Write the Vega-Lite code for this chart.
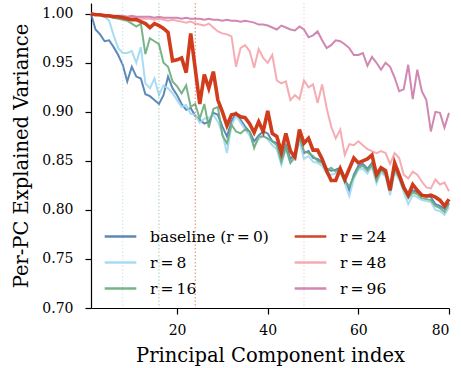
{
  "$schema": "https://vega.github.io/schema/vega-lite/v6.json",
  "width": 358,
  "height": 305,
  "autosize": {"type": "none"},
  "padding": {"left": 91, "top": 3, "right": 12, "bottom": 60},
  "background": "white",
  "config": {
    "view": {"stroke": null},
    "font": "DejaVu Serif",
    "axis": {
      "grid": false,
      "domainColor": "black",
      "domainWidth": 1.2,
      "tickColor": "black",
      "tickWidth": 1.2,
      "tickSize": 6,
      "labelColor": "black",
      "titleColor": "black",
      "labelFont": "DejaVu Serif",
      "titleFont": "DejaVu Serif",
      "labelFontSize": 14,
      "titleFontSize": 19.5,
      "titleFontWeight": "normal"
    }
  },
  "datasets": {
    "pcs": [
      {"i":1,"b":1.000,"r8":1.000,"r16":1.000,"r24":1.000,"r48":1.000,"r96":1.000},
      {"i":2,"b":0.984,"r8":0.999,"r16":0.999,"r24":0.999,"r48":0.999,"r96":0.999},
      {"i":3,"b":0.979,"r8":0.998,"r16":0.999,"r24":0.999,"r48":0.999,"r96":0.999},
      {"i":4,"b":0.972,"r8":0.997,"r16":0.998,"r24":0.998,"r48":0.998,"r96":0.999},
      {"i":5,"b":0.973,"r8":0.993,"r16":0.997,"r24":0.998,"r48":0.998,"r96":0.998},
      {"i":6,"b":0.966,"r8":0.978,"r16":0.996,"r24":0.997,"r48":0.998,"r96":0.998},
      {"i":7,"b":0.958,"r8":0.965,"r16":0.995,"r24":0.997,"r48":0.997,"r96":0.998},
      {"i":8,"b":0.948,"r8":0.960,"r16":0.994,"r24":0.996,"r48":0.997,"r96":0.998},
      {"i":9,"b":0.931,"r8":0.960,"r16":0.993,"r24":0.995,"r48":0.996,"r96":0.997},
      {"i":10,"b":0.946,"r8":0.962,"r16":0.990,"r24":0.994,"r48":0.996,"r96":0.998},
      {"i":11,"b":0.936,"r8":0.950,"r16":0.987,"r24":0.994,"r48":0.996,"r96":0.997},
      {"i":12,"b":0.934,"r8":0.966,"r16":0.990,"r24":0.992,"r48":0.995,"r96":0.997},
      {"i":13,"b":0.918,"r8":0.929,"r16":0.959,"r24":0.990,"r48":0.995,"r96":0.997},
      {"i":14,"b":0.916,"r8":0.924,"r16":0.975,"r24":0.986,"r48":0.995,"r96":0.997},
      {"i":15,"b":0.912,"r8":0.934,"r16":0.972,"r24":0.990,"r48":0.994,"r96":0.996},
      {"i":16,"b":0.908,"r8":0.917,"r16":0.969,"r24":0.988,"r48":0.995,"r96":0.997},
      {"i":17,"b":0.917,"r8":0.927,"r16":0.950,"r24":0.985,"r48":0.994,"r96":0.996},
      {"i":18,"b":0.936,"r8":0.924,"r16":0.946,"r24":0.981,"r48":0.993,"r96":0.996},
      {"i":19,"b":0.924,"r8":0.919,"r16":0.931,"r24":0.952,"r48":0.994,"r96":0.996},
      {"i":20,"b":0.917,"r8":0.912,"r16":0.926,"r24":0.953,"r48":0.993,"r96":0.996},
      {"i":21,"b":0.908,"r8":0.905,"r16":0.919,"r24":0.955,"r48":0.992,"r96":0.995},
      {"i":22,"b":0.902,"r8":0.907,"r16":0.927,"r24":0.940,"r48":0.991,"r96":0.996},
      {"i":23,"b":0.904,"r8":0.898,"r16":0.905,"r24":0.980,"r48":0.992,"r96":0.995},
      {"i":24,"b":0.896,"r8":0.897,"r16":0.908,"r24":0.944,"r48":0.990,"r96":0.995},
      {"i":25,"b":0.892,"r8":0.889,"r16":0.893,"r24":0.908,"r48":0.989,"r96":0.995},
      {"i":26,"b":0.888,"r8":0.893,"r16":0.908,"r24":0.938,"r48":0.988,"r96":0.994},
      {"i":27,"b":0.890,"r8":0.894,"r16":0.884,"r24":0.924,"r48":0.990,"r96":0.995},
      {"i":28,"b":0.899,"r8":0.897,"r16":0.903,"r24":0.941,"r48":0.986,"r96":0.994},
      {"i":29,"b":0.897,"r8":0.890,"r16":0.905,"r24":0.912,"r48":0.982,"r96":0.994},
      {"i":30,"b":0.885,"r8":0.878,"r16":0.876,"r24":0.900,"r48":0.980,"r96":0.993},
      {"i":31,"b":0.875,"r8":0.858,"r16":0.868,"r24":0.886,"r48":0.979,"r96":0.994},
      {"i":32,"b":0.890,"r8":0.886,"r16":0.887,"r24":0.897,"r48":0.977,"r96":0.993},
      {"i":33,"b":0.899,"r8":0.896,"r16":0.880,"r24":0.898,"r48":0.946,"r96":0.993},
      {"i":34,"b":0.892,"r8":0.889,"r16":0.878,"r24":0.895,"r48":0.965,"r96":0.992},
      {"i":35,"b":0.885,"r8":0.882,"r16":0.882,"r24":0.894,"r48":0.968,"r96":0.993},
      {"i":36,"b":0.880,"r8":0.876,"r16":0.880,"r24":0.888,"r48":0.962,"r96":0.992},
      {"i":37,"b":0.870,"r8":0.865,"r16":0.863,"r24":0.879,"r48":0.945,"r96":0.991},
      {"i":38,"b":0.876,"r8":0.872,"r16":0.875,"r24":0.890,"r48":0.964,"r96":0.989},
      {"i":39,"b":0.880,"r8":0.876,"r16":0.875,"r24":0.880,"r48":0.955,"r96":0.989},
      {"i":40,"b":0.878,"r8":0.872,"r16":0.873,"r24":0.901,"r48":0.950,"r96":0.988},
      {"i":41,"b":0.870,"r8":0.866,"r16":0.870,"r24":0.878,"r48":0.958,"r96":0.986},
      {"i":42,"b":0.868,"r8":0.862,"r16":0.866,"r24":0.875,"r48":0.932,"r96":0.984},
      {"i":43,"b":0.852,"r8":0.846,"r16":0.849,"r24":0.859,"r48":0.929,"r96":0.988},
      {"i":44,"b":0.866,"r8":0.862,"r16":0.864,"r24":0.878,"r48":0.931,"r96":0.986},
      {"i":45,"b":0.852,"r8":0.848,"r16":0.848,"r24":0.860,"r48":0.912,"r96":0.984},
      {"i":46,"b":0.857,"r8":0.852,"r16":0.855,"r24":0.854,"r48":0.917,"r96":0.983},
      {"i":47,"b":0.877,"r8":0.870,"r16":0.874,"r24":0.882,"r48":0.913,"r96":0.987},
      {"i":48,"b":0.858,"r8":0.852,"r16":0.860,"r24":0.868,"r48":0.932,"r96":0.984},
      {"i":49,"b":0.860,"r8":0.855,"r16":0.858,"r24":0.873,"r48":0.925,"r96":0.976},
      {"i":50,"b":0.853,"r8":0.849,"r16":0.855,"r24":0.861,"r48":0.928,"r96":0.978},
      {"i":51,"b":0.852,"r8":0.848,"r16":0.850,"r24":0.861,"r48":0.909,"r96":0.982},
      {"i":52,"b":0.849,"r8":0.845,"r16":0.848,"r24":0.852,"r48":0.928,"r96":0.973},
      {"i":53,"b":0.842,"r8":0.837,"r16":0.840,"r24":0.840,"r48":0.904,"r96":0.965},
      {"i":54,"b":0.840,"r8":0.836,"r16":0.843,"r24":0.830,"r48":0.885,"r96":0.968},
      {"i":55,"b":0.841,"r8":0.837,"r16":0.839,"r24":0.830,"r48":0.873,"r96":0.973},
      {"i":56,"b":0.843,"r8":0.838,"r16":0.841,"r24":0.842,"r48":0.882,"r96":0.972},
      {"i":57,"b":0.832,"r8":0.827,"r16":0.830,"r24":0.831,"r48":0.856,"r96":0.969},
      {"i":58,"b":0.820,"r8":0.814,"r16":0.824,"r24":0.842,"r48":0.867,"r96":0.965},
      {"i":59,"b":0.836,"r8":0.832,"r16":0.834,"r24":0.853,"r48":0.866,"r96":0.958},
      {"i":60,"b":0.845,"r8":0.841,"r16":0.843,"r24":0.848,"r48":0.870,"r96":0.958},
      {"i":61,"b":0.847,"r8":0.842,"r16":0.845,"r24":0.850,"r48":0.866,"r96":0.960},
      {"i":62,"b":0.842,"r8":0.837,"r16":0.840,"r24":0.852,"r48":0.862,"r96":0.947},
      {"i":63,"b":0.848,"r8":0.844,"r16":0.846,"r24":0.856,"r48":0.860,"r96":0.956},
      {"i":64,"b":0.832,"r8":0.827,"r16":0.830,"r24":0.836,"r48":0.858,"r96":0.950},
      {"i":65,"b":0.843,"r8":0.838,"r16":0.841,"r24":0.843,"r48":0.860,"r96":0.943},
      {"i":66,"b":0.838,"r8":0.834,"r16":0.836,"r24":0.840,"r48":0.858,"r96":0.950},
      {"i":67,"b":0.820,"r8":0.815,"r16":0.822,"r24":0.820,"r48":0.847,"r96":0.946},
      {"i":68,"b":0.843,"r8":0.838,"r16":0.841,"r24":0.848,"r48":0.858,"r96":0.935},
      {"i":69,"b":0.836,"r8":0.831,"r16":0.834,"r24":0.836,"r48":0.853,"r96":0.921},
      {"i":70,"b":0.825,"r8":0.818,"r16":0.822,"r24":0.823,"r48":0.836,"r96":0.923},
      {"i":71,"b":0.814,"r8":0.806,"r16":0.812,"r24":0.815,"r48":0.832,"r96":0.948},
      {"i":72,"b":0.820,"r8":0.815,"r16":0.818,"r24":0.826,"r48":0.839,"r96":0.913},
      {"i":73,"b":0.818,"r8":0.813,"r16":0.816,"r24":0.820,"r48":0.836,"r96":0.943},
      {"i":74,"b":0.815,"r8":0.810,"r16":0.812,"r24":0.815,"r48":0.829,"r96":0.921},
      {"i":75,"b":0.815,"r8":0.809,"r16":0.811,"r24":0.814,"r48":0.823,"r96":0.912},
      {"i":76,"b":0.813,"r8":0.808,"r16":0.810,"r24":0.815,"r48":0.822,"r96":0.880},
      {"i":77,"b":0.806,"r8":0.800,"r16":0.804,"r24":0.813,"r48":0.831,"r96":0.900},
      {"i":78,"b":0.804,"r8":0.799,"r16":0.802,"r24":0.810,"r48":0.826,"r96":0.899},
      {"i":79,"b":0.801,"r8":0.795,"r16":0.798,"r24":0.804,"r48":0.828,"r96":0.884},
      {"i":80,"b":0.807,"r8":0.803,"r16":0.806,"r24":0.811,"r48":0.819,"r96":0.899}
    ],
    "marks": [
      {"i": 8, "k": "r8"},
      {"i": 16, "k": "r16"},
      {"i": 24, "k": "r24"},
      {"i": 48, "k": "r48"}
    ]
  },
  "layer": [
    {
      "data": {"name": "pcs"},
      "transform": [
        {"fold": ["b", "r8", "r16", "r48", "r96"], "as": ["k", "v"]}
      ],
      "mark": {"type": "line", "strokeWidth": 2, "opacity": 0.9},
      "encoding": {
        "x": {
          "field": "i", "type": "quantitative",
          "scale": {"domain": [1, 80], "nice": false, "zero": false},
          "axis": {"values": [20, 40, 60, 80], "title": "Principal Component index", "labelPadding": 9, "titlePadding": 9}
        },
        "y": {
          "field": "v", "type": "quantitative",
          "scale": {"domain": [0.7, 1.011], "nice": false, "zero": false},
          "axis": {"values": [0.7, 0.75, 0.8, 0.85, 0.9, 0.95, 1.0], "format": ".2f", "title": "Per-PC Explained Variance", "labelPadding": 12, "titlePadding": 10}
        },
        "color": {
          "field": "k", "type": "nominal",
          "scale": {
            "domain": ["b", "r8", "r16", "r24", "r48", "r96"],
            "range": ["#4a7cb1", "#9fd8f2", "#6aab7b", "#cc3311", "#f4a3ab", "#cc7aaa"]
          },
          "legend": {
            "title": null,
            "orient": "none",
            "legendX": 12,
            "legendY": 216,
            "columns": 2,
            "symbolType": "stroke",
            "symbolSize": 1000,
            "symbolStrokeWidth": 2.5,
            "labelFont": "DejaVu Serif",
            "labelFontSize": 15.5,
            "labelFontWeight": "normal",
            "labelColor": "black",
            "labelOffset": 12,
            "rowPadding": -1,
            "columnPadding": 20,
            "labelExpr": "datum.label == 'b' ? 'baseline (r\u2009=\u20090)' : 'r\u2009=\u2009' + substring(datum.label, 1)"
          }
        }
      }
    },
    {
      "data": {"name": "marks"},
      "mark": {"type": "rule", "strokeDash": [1.5, 2], "strokeWidth": 1, "opacity": 0.6},
      "encoding": {
        "x": {"field": "i", "type": "quantitative"},
        "color": {"field": "k", "type": "nominal"}
      }
    },
    {
      "data": {"name": "pcs"},
      "transform": [
        {"fold": ["r24"], "as": ["k", "v"]}
      ],
      "mark": {"type": "line", "strokeWidth": 3.6, "opacity": 0.95},
      "encoding": {
        "x": {"field": "i", "type": "quantitative"},
        "y": {"field": "v", "type": "quantitative"},
        "color": {"field": "k", "type": "nominal"}
      }
    }
  ]
}
